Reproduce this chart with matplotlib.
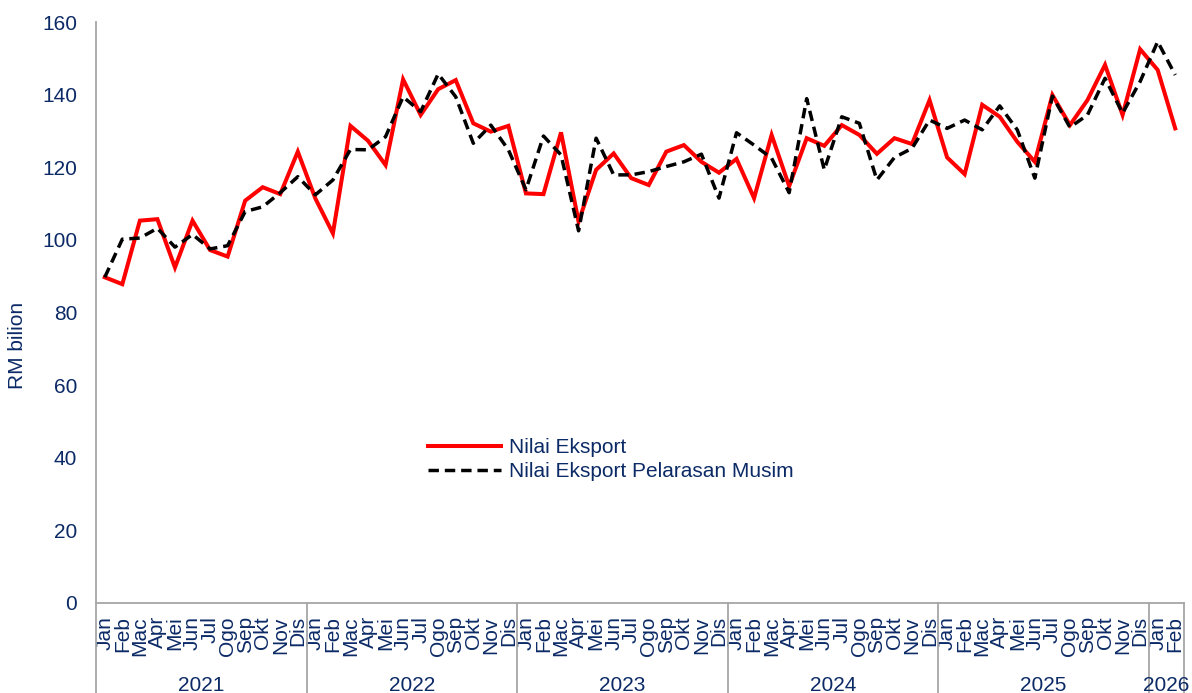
import numpy as np
import matplotlib
matplotlib.use("Agg")
import matplotlib.pyplot as plt
import matplotlib.transforms as mtransforms

plt.rcParams['font.family'] = ['Liberation Sans', 'DejaVu Sans']

# month labels (Malay) and years
months = ["Jan", "Feb", "Mac", "Apr", "Mei", "Jun", "Jul", "Ogo", "Sep", "Okt", "Nov", "Dis"]
years = ["2021", "2022", "2023", "2024", "2025", "2026"]
months_per_year = [12, 12, 12, 12, 12, 2]

# Nilai Eksport (RM bilion), Jan 2021 - Feb 2026
eksport = [
    89.7, 87.8, 105.3, 105.7, 92.4, 105.3, 97.2, 95.4, 110.8, 114.5, 112.6, 124.3,
    111.4, 101.8, 131.4, 127.3, 120.6, 144.2, 134.4, 141.5, 144.0, 132.1, 129.8, 131.4,
    112.8, 112.6, 129.6, 105.0, 119.3, 123.8, 117.0, 115.1, 124.3, 126.1, 121.5, 118.5,
    122.3, 111.5, 128.9, 114.8, 128.0, 125.9, 131.6, 128.9, 123.7, 128.0, 126.4, 138.5,
    122.7, 118.1, 137.2, 133.9, 127.0, 121.5, 139.9, 131.6, 138.5, 148.2, 134.4, 152.5,
    146.8, 130.7,
]

# Nilai Eksport Pelarasan Musim (RM bilion)
eksport_sa = [
    89.7, 100.2, 100.5, 103.2, 98.0, 101.5, 97.5, 98.4, 107.8, 109.1, 113.0, 117.4,
    112.4, 116.5, 124.9, 124.8, 128.4, 139.4, 135.3, 145.7, 139.4, 126.6, 131.6, 124.8,
    113.8, 128.6, 123.4, 102.5, 128.0, 117.9, 117.9, 118.8, 120.2, 121.5, 123.6, 111.5,
    129.5, 126.1, 122.5, 113.0, 138.9, 119.3, 133.9, 132.1, 116.5, 122.7, 125.2, 133.0,
    130.7, 133.0, 130.3, 136.9, 130.3, 117.0, 139.6, 131.0, 134.4, 144.5, 134.9, 143.6,
    154.6, 145.4,
]

navy = '#0c2a66'
grey = '#a6a6a6'
fs = 15

labels = []
for n in months_per_year:
    labels += months[:n]
x = np.arange(len(labels))

fig = plt.figure(figsize=(11.92, 6.93), dpi=100)
ax = fig.add_axes([96 / 1192, 1 - 603 / 693, 1088 / 1192, 581 / 693])

ax.plot(x, eksport, color='#ff0000', lw=2.9, label='Nilai Eksport', solid_joinstyle='miter')
ax.plot(x, eksport_sa, color='black', lw=2.5, dashes=(3.0, 1.7), label='Nilai Eksport Pelarasan Musim')

ax.set_xlim(-0.5, len(labels) - 0.5)
ax.set_ylim(0, 160)
ax.set_yticks(np.arange(0, 161, 20))
ax.tick_params(axis='y', length=0, pad=13.5, labelsize=fs, labelcolor=navy)
ax.set_xticks(x)
ax.set_xticklabels(labels, rotation=90, va='top', ha='center')
ax.tick_params(axis='x', length=0, pad=9.5, labelsize=fs, labelcolor=navy)

for s in ['top', 'right']:
    ax.spines[s].set_visible(False)
for s in ['left', 'bottom']:
    ax.spines[s].set_color(grey)
    ax.spines[s].set_linewidth(1.3)

ax.set_ylabel('RM bilion', fontsize=fs, color=navy)
ax.yaxis.set_label_coords(-0.0634, 0.444)

# year groups under the month labels
trans = mtransforms.blended_transform_factory(ax.transData, ax.transAxes)
bounds = np.concatenate([[0], np.cumsum(months_per_year)]) - 0.5
for b in bounds:
    ax.plot([b, b], [0, -0.16], transform=trans, color=grey, lw=1.3, clip_on=False)
for i, yr in enumerate(years):
    c = (bounds[i] + bounds[i + 1]) / 2
    ax.text(c, -0.142, yr, transform=trans, ha='center', va='center',
            fontsize=fs, color=navy)

leg = ax.legend(loc='upper left', bbox_to_anchor=(428 / 1192, 1 - 438 / 693),
                bbox_transform=fig.transFigure, frameon=False, fontsize=fs,
                handlelength=3.5, handletextpad=0.4, labelspacing=0.25,
                borderaxespad=0, borderpad=0)
for t in leg.get_texts():
    t.set_color(navy)

fig.savefig('out.png', dpi=100)
